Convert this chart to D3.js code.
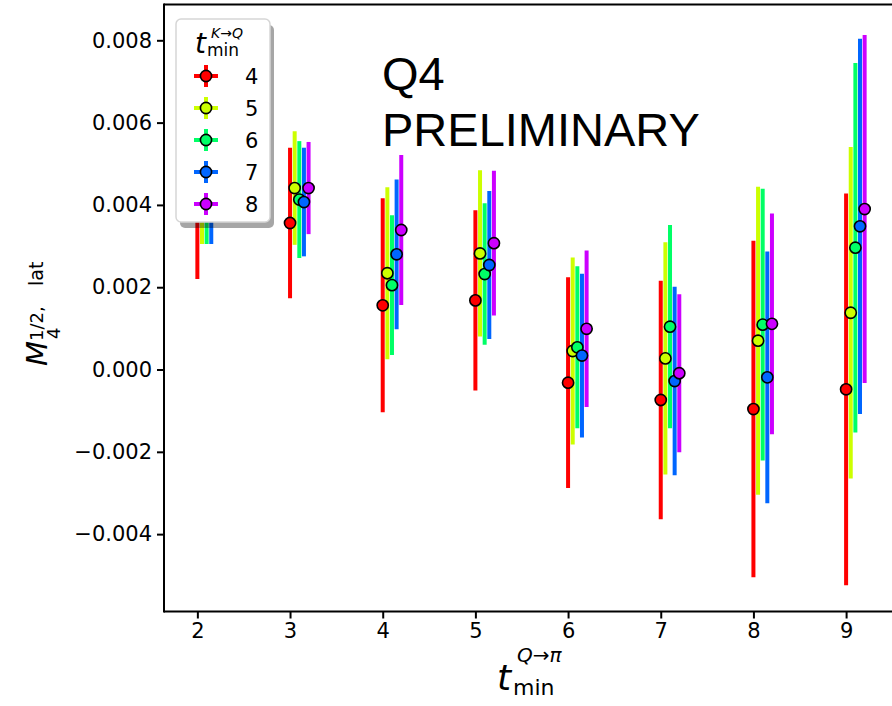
<!DOCTYPE html>
<html><head><meta charset="utf-8">
<script src="https://cdn.jsdelivr.net/npm/d3@7"></script>
<style>
body{margin:0;background:#fff;}
svg{display:block;font-family:"DejaVu Sans",sans-serif;}
</style>
</head><body>
<svg id="c" width="892" height="706"></svg>
<script>
// ---- data ----
const xPositions = [2, 3, 4, 5, 6, 7, 8, 9];
const xTickLabels = ["2", "3", "4", "5", "6", "7", "8", "9"];
const yTickValues = [-0.004, -0.002, 0.000, 0.002, 0.004, 0.006, 0.008];
const seriesLabels = ["4", "5", "6", "7", "8"];
const seriesColors = ["#ff0000", "#ccff00", "#00ff66", "#0066ff", "#cc00ff"];
const seriesOffsets = [0, 0.05, 0.10, 0.15, 0.20];

const vals4 = [0.0040, 0.00356, 0.00156, 0.00168, -0.00032, -0.00074, -0.00096, -0.00048];
const errs4 = [0.0018, 0.00183, 0.00260, 0.00219, 0.00256, 0.00290, 0.00409, 0.00476];
const vals5 = [0.0046, 0.00441, 0.00234, 0.00282, 0.00045, 0.00027, 0.00070, 0.00138];
const errs5 = [0.00155, 0.00138, 0.00209, 0.00202, 0.00227, 0.00282, 0.00374, 0.00403];
const vals6 = [0.0045, 0.00413, 0.00205, 0.00232, 0.00054, 0.00104, 0.00109, 0.00296];
const errs6 = [0.00145, 0.00142, 0.00170, 0.00172, 0.00197, 0.00247, 0.00330, 0.00449];
const vals7 = [0.0044, 0.00407, 0.00280, 0.00254, 0.00034, -0.00028, -0.00019, 0.00348];
const errs7 = [0.00135, 0.00132, 0.00182, 0.00180, 0.00199, 0.00229, 0.00306, 0.00456];
const vals8 = [0.0048, 0.00441, 0.00339, 0.00307, 0.00099, -0.00009, 0.00111, 0.00390];
const errs8 = [0.0012, 0.00112, 0.00182, 0.00176, 0.00190, 0.00192, 0.00268, 0.00423];

const seriesVals = [vals4, vals5, vals6, vals7, vals8];
const seriesErrs = [errs4, errs5, errs6, errs7, errs8];

// ---- layout ----
const svg = d3.select("#c");
const L = 164, R = 898, T = 4.5, B = 611.5;
const x = d3.scaleLinear().domain([1.64, 9.56]).range([L, R]);
const y = d3.scaleLinear().domain([-0.00588, 0.00887]).range([B, T]);

const plot = svg.append("g");

// error bars (all series, below markers)
seriesVals.forEach((vals, s) => {
  plot.append("g").selectAll("line").data(vals).join("line")
    .attr("x1", (d, i) => x(xPositions[i] + seriesOffsets[s]))
    .attr("x2", (d, i) => x(xPositions[i] + seriesOffsets[s]))
    .attr("y1", (d, i) => y(d - seriesErrs[s][i]))
    .attr("y2", (d, i) => y(d + seriesErrs[s][i]))
    .attr("stroke", seriesColors[s])
    .attr("stroke-width", 4);
});
// markers
seriesVals.forEach((vals, s) => {
  plot.append("g").selectAll("circle").data(vals).join("circle")
    .attr("cx", (d, i) => x(xPositions[i] + seriesOffsets[s]))
    .attr("cy", d => y(d))
    .attr("r", 5.6)
    .attr("fill", seriesColors[s])
    .attr("stroke", "#000")
    .attr("stroke-width", 1.6);
});

// frame
svg.append("line").attr("x1", L).attr("x2", R).attr("y1", T).attr("y2", T).attr("stroke", "#000").attr("stroke-width", 2);
svg.append("line").attr("x1", L).attr("x2", R).attr("y1", B).attr("y2", B).attr("stroke", "#000").attr("stroke-width", 2);
svg.append("line").attr("x1", L).attr("x2", L).attr("y1", T - 1).attr("y2", B + 1).attr("stroke", "#000").attr("stroke-width", 2);

// axes
const xAxis = d3.axisBottom(x).tickValues(xPositions).tickFormat((d, i) => xTickLabels[i]).tickSize(7).tickPadding(5);
const gx = svg.append("g").attr("transform", `translate(0,${B})`).call(xAxis);
gx.select(".domain").remove();
gx.selectAll(".tick line").attr("stroke-width", 2);
gx.selectAll("text").attr("font-size", 21).attr("font-family", "DejaVu Sans").attr("fill", "#000");

const fmt = d => (d < 0 ? "\u2212" : "") + Math.abs(d).toFixed(3);
const yAxis = d3.axisLeft(y).tickValues(yTickValues).tickFormat(fmt).tickSize(7).tickPadding(5);
const gy = svg.append("g").attr("transform", `translate(${L},0)`).call(yAxis);
gy.select(".domain").remove();
gy.selectAll(".tick line").attr("stroke-width", 2);
gy.selectAll("text").attr("font-size", 21).attr("font-family", "DejaVu Sans").attr("fill", "#000");

// x label  t_min^{Q→π}
const xl = svg.append("g");
xl.append("text").attr("x", 497).attr("y", 690).attr("font-size", 36).attr("font-style", "italic").text("t");
xl.append("text").attr("x", 513).attr("y", 695).attr("font-size", 22).text("min");
xl.append("text").attr("x", 517).attr("y", 662).attr("font-size", 20).attr("font-style", "italic").text("Q\u2192\u03c0");

// y label  M_4^{1/2, lat}
const yl = svg.append("g").attr("transform", "translate(47,366) rotate(-90)");
yl.append("text").attr("x", 0).attr("y", 0).attr("font-size", 29).attr("font-style", "italic").text("M");
yl.append("text").attr("x", 25).attr("y", -4).attr("font-size", 18).text("1/2,");
yl.append("text").attr("x", 80).attr("y", -4).attr("font-size", 19).text("lat");
yl.append("text").attr("x", 27).attr("y", 13).attr("font-size", 18).text("4");

// annotation
svg.append("text").attr("x", 382).attr("y", 90).attr("font-size", 47).attr("font-family", "Liberation Sans, Arial, sans-serif").text("Q4");
svg.append("text").attr("x", 382).attr("y", 146).attr("font-size", 47).attr("font-family", "Liberation Sans, Arial, sans-serif").text("PRELIMINARY");

// legend
const lg = svg.append("g");
const lx = 176, ly = 19, lw = 94, lh = 203;
lg.append("rect").attr("x", lx + 4).attr("y", ly + 6).attr("width", lw).attr("height", lh).attr("rx", 5)
  .attr("fill", "#000").attr("opacity", 0.35);
lg.append("rect").attr("x", lx).attr("y", ly).attr("width", lw).attr("height", lh).attr("rx", 5)
  .attr("fill", "#fff").attr("stroke", "#d6d6d6").attr("stroke-width", 1.5);
lg.append("text").attr("x", 195).attr("y", 53).attr("font-size", 28).attr("font-style", "italic").text("t");
lg.append("text").attr("x", 207).attr("y", 56).attr("font-size", 17).text("min");
lg.append("text").attr("x", 211).attr("y", 38).attr("font-size", 14).attr("font-style", "italic").text("K\u2192Q");
const entryY = d3.scaleLinear().domain([0, 4]).range([76, 204]);
seriesLabels.forEach((lab, s) => {
  const cy = entryY(s);
  lg.append("line").attr("x1", 194).attr("x2", 218).attr("y1", cy).attr("y2", cy).attr("stroke", seriesColors[s]).attr("stroke-width", 4);
  lg.append("line").attr("x1", 206).attr("x2", 206).attr("y1", cy - 11).attr("y2", cy + 11).attr("stroke", seriesColors[s]).attr("stroke-width", 4);
  lg.append("circle").attr("cx", 206).attr("cy", cy).attr("r", 5.6).attr("fill", seriesColors[s]).attr("stroke", "#000").attr("stroke-width", 1.6);
  lg.append("text").attr("x", 245).attr("y", cy + 7.5).attr("font-size", 21).text(lab);
});
</script>
</body></html>
